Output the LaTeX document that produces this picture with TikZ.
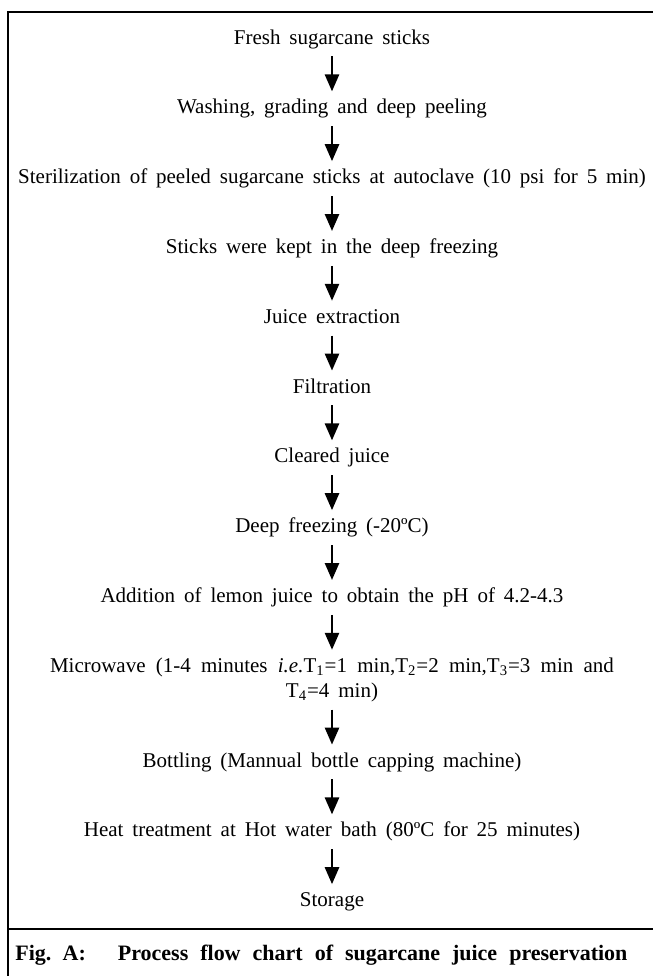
\documentclass[tikz,border=0pt]{standalone}
\usepackage{fontspec}
\setmainfont{Liberation Serif}[WordSpace=1.7]
\usetikzlibrary{arrows.meta,positioning}

\begin{document}
\begin{tikzpicture}[
    node distance=25.5pt, % gap between steps
    stepbox/.style={draw=none,align=center,inner sep=0pt,text height=7pt,text depth=2pt,font=\fontsize{10.5}{12.5}\selectfont},
    arrow/.style={-{Triangle[width=7pt,length=8.5pt]},line width=1.3pt,shorten <=4pt,shorten >=4pt}
]
\useasboundingbox (0,0) rectangle (326.5pt,-488pt);

% Frame
\draw[line width=1pt] (326.5pt,-6pt) -- (4pt,-6pt) -- (4pt,-488pt);
\draw[line width=1pt] (4pt,-464.5pt) -- (326.5pt,-464.5pt);

% Steps
\node[stepbox] (fresh) at (166pt,-19.5pt) {Fresh sugarcane sticks};
\node[stepbox] (wash) [below=of fresh] {Washing, grading and deep peeling};
\node[stepbox] (steril) [below=of wash] {Sterilization of peeled sugarcane sticks at autoclave (10 psi for 5 min)};
\node[stepbox] (stick) [below=of steril] {Sticks were kept in the deep freezing};
\node[stepbox] (juice) [below=of stick] {Juice extraction};
\node[stepbox] (filt) [below=of juice] {Filtration};
\node[stepbox] (clear) [below=of filt] {Cleared juice};
\node[stepbox] (freeze) [below=of clear] {Deep freezing (-20ºC)};
\node[stepbox] (lemon) [below=of freeze] {Addition of lemon juice to obtain the pH of 4.2-4.3};
\node[stepbox,text height=19.5pt] (micro) [below=of lemon] {\makebox[282pt][s]{Microwave (1-4 minutes \textit{i.e.}T\textsubscript{1}=1 min,T\textsubscript{2}=2 min,T\textsubscript{3}=3 min and}\\T\textsubscript{4}=4 min)};
\node[stepbox] (bottle) [below=of micro] {Bottling (Mannual bottle capping machine)};
\node[stepbox] (heat) [below=of bottle] {Heat treatment at Hot water bath (80ºC for 25 minutes)};
\node[stepbox] (store) [below=of heat] {Storage};

% Caption
\node[anchor=west,inner sep=0pt,font=\bfseries\fontsize{11}{13}\selectfont] (cap) at (7.5pt,-477.5pt)
    {\makebox[306pt][s]{\mbox{Fig. A:}\hspace{16pt}Process flow chart of sugarcane juice preservation}};

% Arrows
\foreach \a/\b in {fresh/wash,wash/steril,steril/stick,stick/juice,juice/filt,filt/clear,
    clear/freeze,freeze/lemon,lemon/micro,micro/bottle,bottle/heat,heat/store} {
    \draw[arrow] (\a) -- (\b);
}

\end{tikzpicture}
\end{document}
